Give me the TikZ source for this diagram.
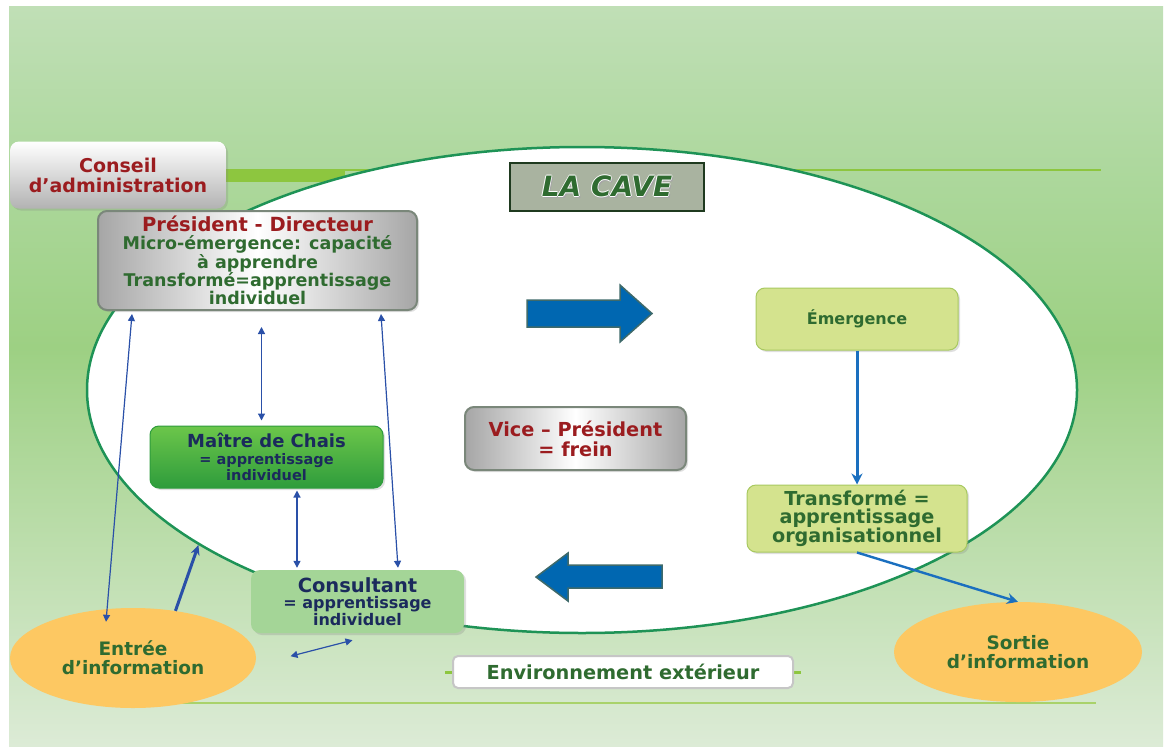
\documentclass[tikz,border=0pt]{standalone}
\usepackage{fontspec}
\setmainfont{DejaVu Sans}
\usepackage{xcolor}
\usepackage{tikz}
\usetikzlibrary{arrows.meta,positioning,shapes.geometric,shadows}

\definecolor{wine}{HTML}{9B1C1F}
\definecolor{leafdark}{HTML}{2F6B30}
\definecolor{navyink}{HTML}{1B2A5C}
\definecolor{linkblue}{HTML}{2A50A8}
\definecolor{flowblue}{HTML}{1A6FBF}
\definecolor{bigblue}{HTML}{0067B1}
\definecolor{bigrim}{HTML}{3F6A6A}
\definecolor{cellarrim}{HTML}{1E9356}
\definecolor{lime}{HTML}{8DC63F}
\definecolor{limepale}{HTML}{A9D26A}
\definecolor{sage}{HTML}{7A877A}
\definecolor{cavegray}{HTML}{A9B3A0}
\definecolor{cavedark}{HTML}{1F3A1F}
\definecolor{sunny}{HTML}{FDC862}
\definecolor{limebox}{HTML}{D4E38E}
\definecolor{limerim}{HTML}{A8C960}
\definecolor{mintbox}{HTML}{A4D597}
\definecolor{grassTop}{HTML}{6CC64A}
\definecolor{grassLow}{HTML}{2E9C3C}
\definecolor{bgTop}{HTML}{C0DFB6}
\definecolor{bgHigh}{HTML}{ADD89D}
\definecolor{bgMid}{HTML}{9DD083}
\definecolor{bgLow}{HTML}{DCEBD6}

\pgfdeclareverticalshading{meadow}{100bp}{color(0bp)=(bgLow); color(25bp)=(bgLow); color(52bp)=(bgMid); color(64bp)=(bgHigh); color(75bp)=(bgTop); color(100bp)=(bgTop)}

\newcommand{\haloText}[1]{%
  \leavevmode
  \rlap{\hspace{1.6pt}\raisebox{-1.6pt}{\color{black!35}#1}}%
  \rlap{\hspace{-0.9pt}\color{white}#1}%
  \rlap{\hspace{0.9pt}\color{white}#1}%
  \rlap{\raisebox{0.9pt}{\color{white}#1}}%
  \rlap{\raisebox{-0.9pt}{\color{white}#1}}%
  #1}

\begin{document}
\begin{tikzpicture}[x=1pt, y=-1pt,
  box/.style={rounded corners=9pt, align=center, inner sep=2pt, drop shadow={opacity=0.25, shadow xshift=2pt, shadow yshift=-2pt}},
  metal/.style={box, left color=gray!70, right color=gray!70, middle color=white, draw=sage, line width=2pt},
  lemon/.style={box, fill=limebox, draw=limerim, line width=1pt, text=leafdark},
  blob/.style={ellipse, fill=sunny, text=leafdark, align=center, inner sep=0pt, font=\fontsize{18.5}{19}\selectfont\bfseries},
  link/.style={{Triangle[length=7pt,width=7pt]}-{Triangle[length=7pt,width=7pt]}, linkblue, line width=1.2pt},
  flow/.style={-{Stealth[length=11pt,width=11pt]}, flowblue, line width=3pt},
  bigarrow/.style={fill=bigblue, draw=bigrim, line width=1.5pt}
]
\useasboundingbox (0,0) rectangle (1166,749);
% background and decor lines
\shade[shading=meadow] (9,7) rectangle (1163,746);
\draw[lime, line width=1.3pt] (226,170) -- (1101,170);
\draw[lime, line width=12pt] (200,176) -- (345,176);
\draw[limepale, line width=1.5pt] (87,703) -- (1096,703);
\draw[lime, line width=3pt] (445,672) -- (801,672);

\node[ellipse, draw=cellarrim, line width=2.5pt, fill=white, minimum width=990, minimum height=486] (cellar) at (582,390) {};

\node[box, top color=white, bottom color=gray!60, minimum width=216, minimum height=67, text=wine, font=\fontsize{19}{20}\selectfont\bfseries] (board) at (118,175) {Conseil\\ d’administration};

\node[metal, minimum width=319, minimum height=99, text=leafdark, font=\fontsize{17.5}{18.2}\selectfont\bfseries] (pres) at (257.5,260.5) {{\fontsize{19.5}{18.2}\selectfont\color{wine}Président - Directeur}\\ Micro-émergence: capacité\\ à apprendre\\ Transformé=apprentissage\\ individuel};

\node[rectangle, fill=cavegray, draw=cavedark, line width=2.5pt, minimum width=194, minimum height=48, text=leafdark, font=\fontsize{28}{30}\selectfont\bfseries\itshape] (cave) at (607,187) {\haloText{LA CAVE}};

\node[box, top color=grassTop, bottom color=grassLow, draw=grassLow, line width=1pt, minimum width=233, minimum height=62, text=navyink, font=\fontsize{14.5}{16.5}\selectfont\bfseries] (maitre) at (266.5,457) {{\fontsize{18}{16.5}\selectfont Maître de Chais}\\ = apprentissage\\ individuel};

\node[metal, minimum width=221, minimum height=63, text=wine, font=\fontsize{19.3}{20}\selectfont\bfseries] (vice) at (575.5,438.5) {Vice – Président\\ = frein};

\node[box, fill=mintbox, minimum width=213, minimum height=63, text=navyink, font=\fontsize{16}{16.5}\selectfont\bfseries] (consult) at (357.5,601.5) {{\fontsize{19.5}{16.5}\selectfont Consultant}\\ = apprentissage\\ individuel};

\node[lemon, minimum width=202, minimum height=62, font=\fontsize{16}{18}\selectfont\bfseries] (emerg) at (857,319) {Émergence};
\node[lemon, minimum width=220, minimum height=67, font=\fontsize{19.2}{18}\selectfont\bfseries, below=134pt of emerg] (transf) {Transformé =\\ apprentissage\\ organisationnel};

\node[blob, minimum width=246, minimum height=100] (entree) at (133,658) {Entrée\\ d’information};
\node[blob, minimum width=248, minimum height=100] (sortie) at (1018,652) {Sortie\\ d’information};

\node[rounded corners=5pt, fill=white, draw=gray!45, line width=2pt, minimum width=340, minimum height=32, text=leafdark, font=\fontsize{19.3}{20}\selectfont\bfseries] (envext) at (623,672) {Environnement extérieur};

% big block arrows
\draw[bigarrow] (527,300) -- (620,300) -- (620,285) -- (652,313.5) -- (620,342) -- (620,327) -- (527,327) -- cycle;
\draw[bigarrow] (662,565) -- (568,565) -- (568,553) -- (536,577) -- (568,601) -- (568,588) -- (662,588) -- cycle;

% links
\draw[link, shorten <=16pt, shorten >=5pt] ([xshift=4pt]pres.south) -- ([xshift=-5pt]maitre.north);
\draw[link, shorten <=2pt, shorten >=2pt] ([xshift=30.5pt]maitre.south) -- ([xshift=-60.5pt]consult.north);
\draw[link] ([xshift=-37pt,yshift=-3pt]pres.south east) -- ([xshift=40.5pt,yshift=2pt]consult.north);
\draw[link] ([xshift=35pt,yshift=-3pt]pres.south west) -- ([xshift=-27pt,yshift=-14pt]entree.north);
\draw[link] ([xshift=-67pt,yshift=-23pt]consult.south) -- ([xshift=-5pt,yshift=-7pt]consult.south);
\draw[-{Stealth[length=10pt,width=9pt]}, linkblue, line width=3pt] (entree.48) -- (cellar.202);
\draw[flow] (emerg) -- (transf);
\draw[flow, line width=2.4pt] (transf.south) -- (sortie.north);
\end{tikzpicture}
\end{document}
